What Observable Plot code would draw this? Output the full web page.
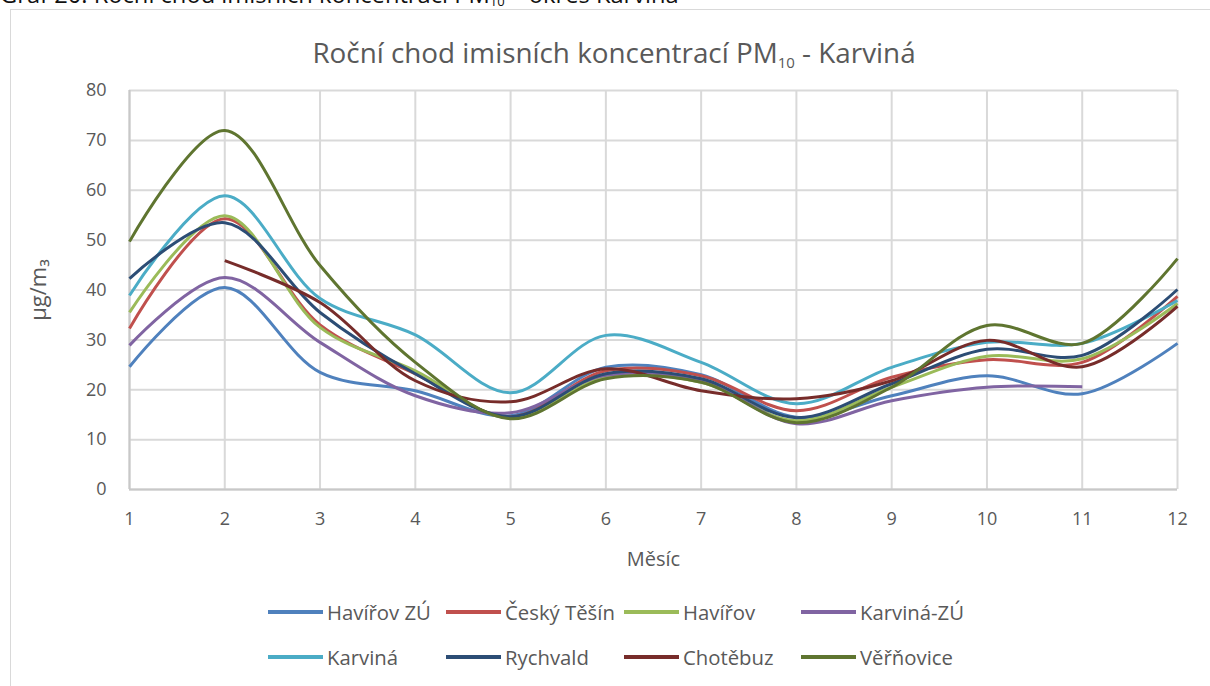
<!DOCTYPE html>
<html>
<head>
<meta charset="utf-8">
<script src="https://cdn.jsdelivr.net/npm/d3@7"></script>
<script src="https://cdn.jsdelivr.net/npm/@observablehq/plot@0.6"></script>
<style>
  html, body { margin: 0; padding: 0; background: #fff; }
  body { width: 1210px; height: 686px; position: relative; overflow: hidden;
         font-family: "Open Sans", sans-serif; }
  #caption { position: absolute; left: 0px; top: -22px; font-size: 20px; color: #111; white-space: nowrap; }
  #caption sub { font-size: 13px; vertical-align: -3px; line-height: 0; }
  #frame { position: absolute; left: 10px; top: 9px; width: 1215px; height: 690px; border: 1px solid #d9d9d9; box-sizing: border-box; }
  #title { position: absolute; left: 614px; top: 33px; transform: translateX(-50%); font-size: 23px; color: #595959; white-space: nowrap; }
  #title sub { font-size: 15px; vertical-align: -5px; line-height: 0; }
  #chart { position: absolute; left: 0; top: 70px; }
  .leg { position: absolute; display: flex; align-items: center; font-size: 19px; color: #595959; white-space: nowrap; }
  .leg .sw { width: 55px; height: 4px; margin-right: 4px; }
</style>
</head>
<body>
<div id="caption">Graf 20: Roční chod imisních koncentrací PM<sub>10</sub> – okres Karviná</div>
<div id="frame"></div>
<div id="title">Roční chod imisních koncentrací PM<sub>10</sub> - Karviná</div>
<div id="chart"></div>
<div id="legend"></div>
<script>
const months = [1, 2, 3, 4, 5, 6, 7, 8, 9, 10, 11, 12];
const yTicks = [0, 10, 20, 30, 40, 50, 60, 70, 80];
const seriesNames = ["Havířov ZÚ", "Český Těšín", "Havířov", "Karviná-ZÚ", "Karviná", "Rychvald", "Chotěbuz", "Věřňovice"];
const seriesColors = ["#4f81bd", "#c0504d", "#9bbb59", "#8064a2", "#4bacc6", "#2c4d75", "#772c2a", "#5f7530"];

const havirovZU   = [24.6, 40.5, 23.5, 19.8, 14.8, 24.5, 23.0, 14.5, 18.8, 22.8, 19.2, 29.3];
const ceskyTesin  = [32.3, 54.3, 33.0, 23.2, 14.6, 23.8, 22.8, 15.8, 22.5, 26.0, 25.5, 38.7];
const havirov     = [35.5, 54.9, 32.5, 23.8, 14.3, 22.5, 21.5, 13.8, 20.5, 26.7, 26.2, 37.3];
const karvinaZU   = [28.9, 42.5, 29.5, 18.8, 15.4, 22.9, 21.8, 13.2, 17.8, 20.5, 20.6, null];
const karvina     = [38.9, 58.9, 38.3, 31.0, 19.4, 30.9, 25.5, 17.2, 24.5, 29.5, 29.3, 37.9];
const rychvald    = [42.3, 53.5, 35.5, 23.2, 14.6, 23.2, 22.2, 14.4, 21.2, 28.1, 26.9, 40.1];
const chotebuz    = [null, 45.9, 37.5, 21.8, 17.6, 24.2, 19.8, 18.2, 21.8, 29.9, 24.6, 36.7];
const vernovice   = [49.7, 72.0, 44.9, 25.5, 14.2, 22.2, 21.5, 13.4, 20.5, 32.9, 29.3, 46.3];

const seriesValues = [havirovZU, ceskyTesin, havirov, karvinaZU, karvina, rychvald, chotebuz, vernovice];

const data = [];
seriesNames.forEach((name, i) => {
  months.forEach((m, j) => {
    data.push({series: name, month: m, value: seriesValues[i][j]});
  });
});

const fontFamily = '"Open Sans", sans-serif';

const chart = Plot.plot({
  width: 1210,
  height: 510,
  marginLeft: 129,
  marginRight: 33,
  marginTop: 20,
  marginBottom: 91,
  style: {fontFamily, fontSize: "18px", color: "#595959", background: "transparent", overflow: "visible"},
  x: {domain: [1, 12]},
  y: {domain: [0, 80]},
  color: {domain: seriesNames, range: seriesColors},
  marks: [
    Plot.gridY(yTicks, {stroke: "#d9d9d9", strokeOpacity: 1, strokeWidth: 2}),
    Plot.gridX(months, {stroke: "#d9d9d9", strokeOpacity: 1, strokeWidth: 2}),
    Plot.ruleY([0], {stroke: "#c8c8c8", strokeWidth: 2}),
    Plot.ruleX([1], {stroke: "#c8c8c8", strokeWidth: 2}),
    Plot.axisY(yTicks, {tickSize: 0, tickPadding: 23, label: null, fill: "#595959", fontSize: 18}),
    Plot.axisX(months, {tickSize: 0, tickPadding: 23, label: null, fill: "#595959", fontSize: 18}),
    Plot.line(data, {
      x: "month", y: "value", z: "series", stroke: "series",
      curve: "catmull-rom", strokeWidth: 3, strokeLinejoin: "round", strokeLinecap: "butt"
    }),
    Plot.text(["Měsíc"], {frameAnchor: "bottom", dy: 76, text: d => d, fontSize: 20, fill: "#595959"}),
    Plot.text(["µg/m₃"], {frameAnchor: "left", textAnchor: "middle", dx: -91, dy: 0, rotate: -90, text: d => d, fontSize: 22, fill: "#595959"})
  ]
});
document.getElementById("chart").appendChild(chart);

const legendX = [268, 446, 624, 801];
const legendY = [612, 657];
const legend = document.getElementById("legend");
const legendLabels = [];
seriesNames.forEach((name, i) => {
  const item = document.createElement("div");
  item.className = "leg";
  item.style.left = legendX[i % 4] + "px";
  item.style.top = (legendY[Math.floor(i / 4)] - 14) + "px";
  const sw = document.createElement("div");
  sw.className = "sw";
  sw.style.background = seriesColors[i];
  const label = document.createElement("span");
  label.textContent = name;
  item.appendChild(sw);
  item.appendChild(label);
  legend.appendChild(item);
  legendLabels.push(label);
});

// fit text sizes to the reference widths
function fit(el, target) {
  const w = el.getBoundingClientRect().width;
  const fs = parseFloat(getComputedStyle(el).fontSize);
  if (w > 0) el.style.fontSize = (fs * target / w) + "px";
}
fit(document.getElementById("title"), 607);
fit(document.getElementById("caption"), 682);
const w0 = legendLabels[0].getBoundingClientRect().width;
const fs0 = parseFloat(getComputedStyle(legendLabels[0]).fontSize);
const lfs = fs0 * 104 / w0;
legendLabels.forEach(l => l.style.fontSize = lfs + "px");
</script>
</body>
</html>
